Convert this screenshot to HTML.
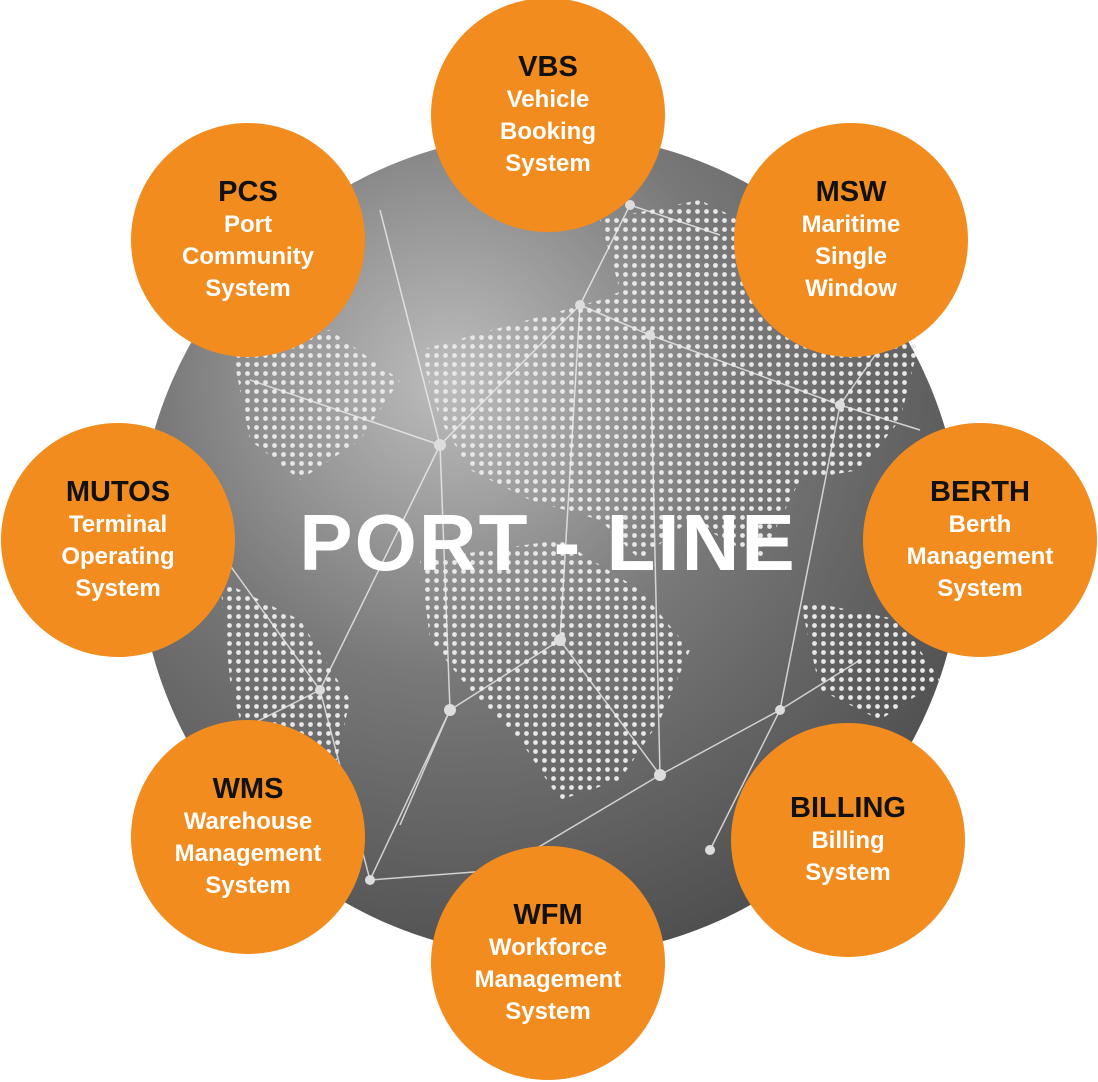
<!DOCTYPE html>
<html><head><meta charset="utf-8"><style>
html,body{margin:0;padding:0;background:#fff;}
body{width:1098px;height:1082px;position:relative;overflow:hidden;font-family:"Liberation Sans",sans-serif;}
svg{position:absolute;left:0;top:0;}
.c{position:absolute;width:234px;height:234px;border-radius:50%;background:#F28C1F;text-align:center;display:flex;flex-direction:column;justify-content:center;font-weight:bold;}
.c b{color:#111;font-size:29px;line-height:34px;}
.c span{color:#fff;font-size:24px;line-height:32px;}
</style></head><body>
<svg width="1098" height="1082">
<defs>
<radialGradient id="g" cx="0.38" cy="0.3" r="0.8">
<stop offset="0" stop-color="#bdbdbd"/><stop offset="0.45" stop-color="#787878"/><stop offset="1" stop-color="#484848"/>
</radialGradient>
<pattern id="d" width="9" height="9" patternUnits="userSpaceOnUse"><circle cx="4.5" cy="4.5" r="2.4" fill="#e8e8e8"/></pattern>
</defs>
<circle cx="550" cy="545" r="412" fill="url(#g)"/>
<g fill="url(#d)">
<path d="M420 350 L600 300 L720 250 L880 260 L920 340 L900 420 L860 470 L800 480 L760 560 L690 520 L640 560 L600 520 L530 500 L470 470 L440 420Z"/>
<path d="M420 560 L560 540 L640 590 L690 650 L660 720 L620 780 L560 800 L520 740 L470 690 L430 640Z"/>
<path d="M230 340 L330 330 L400 380 L360 440 L300 480 L250 440Z"/>
<path d="M220 580 L300 620 L350 700 L330 790 L290 820 L250 760 L230 680Z"/>
<path d="M800 600 L900 620 L940 680 L880 720 L820 690Z"/>
<path d="M600 220 L700 200 L760 230 L700 280 L620 290Z"/>
</g>
<g stroke="#eee" stroke-width="1.5" fill="none" opacity="0.8">
<path d="M440 445 L580 305 L650 335 L840 405 L920 430"/>
<path d="M440 445 L450 710 L560 640 L660 775 L780 710 L860 660"/>
<path d="M440 445 L320 690 L370 880 L450 710"/>
<path d="M580 305 L630 205 L720 235"/>
<path d="M560 640 L580 305"/>
<path d="M650 335 L660 775"/>
<path d="M840 405 L780 710 L710 850"/>
<path d="M190 510 L320 690 L200 750"/>
<path d="M380 210 L440 445 L250 380"/>
<path d="M660 775 L500 870 L370 880"/>
<path d="M450 710 L400 825"/>
<path d="M840 405 L900 320"/>
</g>
<g fill="#ddd">
<circle cx="440" cy="445" r="6"/><circle cx="580" cy="305" r="5"/><circle cx="650" cy="335" r="5"/><circle cx="840" cy="405" r="5"/><circle cx="450" cy="710" r="6"/><circle cx="560" cy="640" r="6"/><circle cx="660" cy="775" r="6"/><circle cx="780" cy="710" r="5"/><circle cx="320" cy="690" r="5"/><circle cx="370" cy="880" r="5"/><circle cx="630" cy="205" r="5"/><circle cx="710" cy="850" r="5"/><circle cx="500" cy="870" r="4"/>
</g>
<text x="548" y="570" text-anchor="middle" font-family="Liberation Sans,sans-serif" font-weight="bold" font-size="80" letter-spacing="2" fill="#fff">PORT - LINE</text>
</svg>
<div class="c" style="left:431px;top:-2px"><b>VBS</b><span>Vehicle</span><span>Booking</span><span>System</span></div>
<div class="c" style="left:131px;top:123px"><b>PCS</b><span>Port</span><span>Community</span><span>System</span></div>
<div class="c" style="left:734px;top:123px"><b>MSW</b><span>Maritime</span><span>Single</span><span>Window</span></div>
<div class="c" style="left:1px;top:423px"><b>MUTOS</b><span>Terminal</span><span>Operating</span><span>System</span></div>
<div class="c" style="left:863px;top:423px"><b>BERTH</b><span>Berth</span><span>Management</span><span>System</span></div>
<div class="c" style="left:131px;top:720px"><b>WMS</b><span>Warehouse</span><span>Management</span><span>System</span></div>
<div class="c" style="left:731px;top:723px"><b>BILLING</b><span>Billing</span><span>System</span></div>
<div class="c" style="left:431px;top:846px"><b>WFM</b><span>Workforce</span><span>Management</span><span>System</span></div>
</body></html>
